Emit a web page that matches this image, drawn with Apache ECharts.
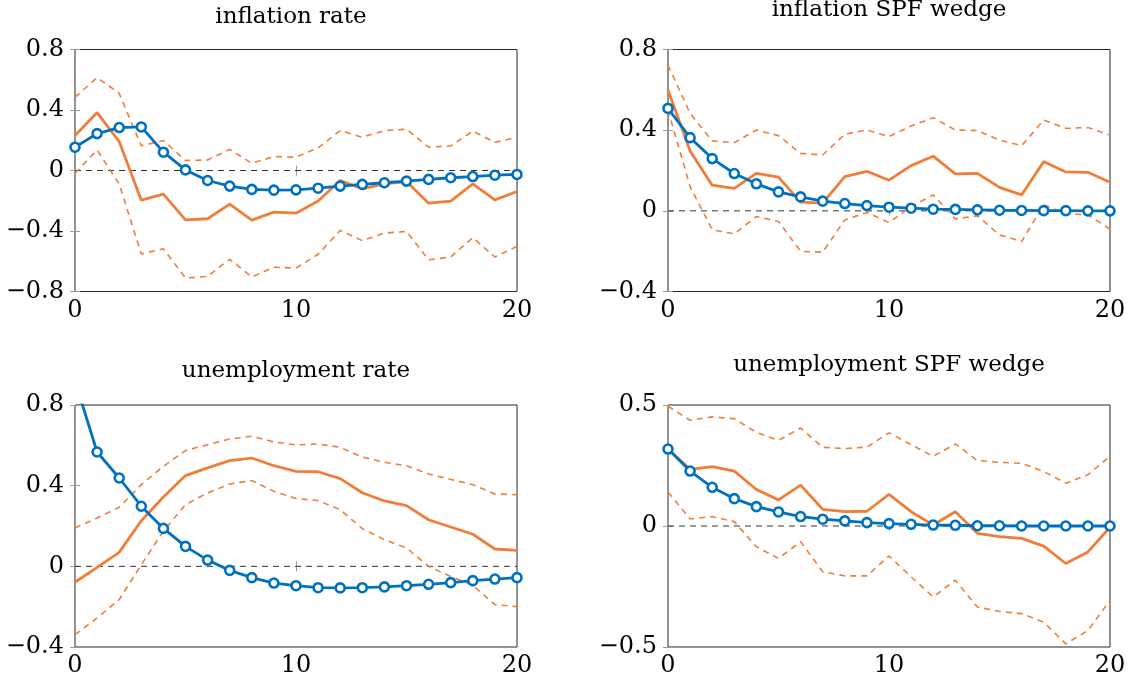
<!DOCTYPE html>
<html>
<head>
<meta charset="utf-8">
<title>Impulse responses</title>
<script src="https://cdn.jsdelivr.net/npm/echarts@6/dist/echarts.min.js"></script>
<style>
  html, body { margin: 0; padding: 0; background: #fff; }
  #chart { width: 1131px; height: 686px; }
</style>
</head>
<body>
<div id="chart"></div>
<script>
// Horizon (quarters)
const periods = [0,1,2,3,4,5,6,7,8,9,10,11,12,13,14,15,16,17,18,19,20];
const xTicks = [0, 10, 20];

// Panel titles
const titles = ['inflation rate', 'inflation SPF wedge', 'unemployment rate', 'unemployment SPF wedge'];

// y-axis tick values per panel
const yTicksInf = [-0.8, -0.4, 0, 0.4, 0.8];
const yTicksSpfInf = [-0.4, 0, 0.4, 0.8];
const yTicksUn = [-0.4, 0, 0.4, 0.8];
const yTicksSpfUn = [-0.5, 0, 0.5];

// inflation rate
const infModel  = [0.154,0.244,0.284,0.288,0.121,0.004,-0.066,-0.103,-0.125,-0.130,-0.128,-0.117,-0.103,-0.092,-0.081,-0.070,-0.059,-0.048,-0.040,-0.031,-0.026];
const infMedian = [0.231,0.383,0.191,-0.196,-0.156,-0.326,-0.319,-0.222,-0.328,-0.275,-0.282,-0.202,-0.066,-0.121,-0.088,-0.073,-0.216,-0.202,-0.088,-0.194,-0.139];
const infUpper  = [0.484,0.614,0.510,0.163,0.198,0.066,0.070,0.139,0.048,0.092,0.088,0.150,0.264,0.220,0.264,0.273,0.154,0.163,0.260,0.187,0.218];
const infLower  = [-0.018,0.136,-0.090,-0.552,-0.517,-0.711,-0.700,-0.587,-0.704,-0.640,-0.645,-0.554,-0.396,-0.464,-0.414,-0.403,-0.590,-0.572,-0.444,-0.572,-0.502];

// inflation SPF wedge
const spfInfModel  = [0.508,0.363,0.259,0.185,0.134,0.094,0.069,0.048,0.036,0.026,0.018,0.013,0.008,0.007,0.005,0.003,0.002,0.001,0.001,0.000,0.000];
const spfInfMedian = [0.599,0.297,0.127,0.111,0.186,0.167,0.043,0.038,0.170,0.196,0.152,0.224,0.271,0.183,0.186,0.116,0.079,0.244,0.193,0.191,0.142];
const spfInfUpper  = [0.723,0.483,0.347,0.338,0.401,0.373,0.285,0.277,0.380,0.401,0.368,0.421,0.462,0.401,0.398,0.351,0.323,0.450,0.409,0.413,0.376];
const spfInfLower  = [0.500,0.120,-0.094,-0.114,-0.028,-0.053,-0.201,-0.205,-0.045,-0.008,-0.058,0.021,0.079,-0.040,-0.025,-0.119,-0.152,0.030,-0.015,-0.020,-0.091];

// unemployment rate
const unModel  = [0.920,0.567,0.438,0.298,0.188,0.099,0.031,-0.020,-0.056,-0.083,-0.096,-0.106,-0.107,-0.106,-0.102,-0.096,-0.089,-0.081,-0.071,-0.063,-0.056];
const unMedian = [-0.079,-0.005,0.069,0.226,0.344,0.450,0.488,0.524,0.537,0.499,0.471,0.469,0.435,0.365,0.324,0.301,0.231,0.195,0.159,0.086,0.079];
const unUpper  = [0.190,0.240,0.293,0.405,0.496,0.574,0.603,0.631,0.645,0.617,0.602,0.607,0.590,0.542,0.516,0.499,0.458,0.431,0.405,0.359,0.355];
const unLower  = [-0.339,-0.256,-0.165,0.008,0.174,0.306,0.364,0.408,0.425,0.372,0.336,0.326,0.281,0.187,0.132,0.091,0.000,-0.050,-0.094,-0.190,-0.200];

// unemployment SPF wedge
const spfUnModel  = [0.318,0.227,0.160,0.113,0.080,0.058,0.039,0.028,0.021,0.014,0.010,0.007,0.004,0.003,0.001,0.001,0.000,0.000,0.000,0.000,0.000];
const spfUnMedian = [0.318,0.234,0.245,0.227,0.151,0.108,0.169,0.069,0.059,0.061,0.131,0.059,0.004,0.059,-0.030,-0.044,-0.051,-0.083,-0.155,-0.107,-0.005];
const spfUnUpper  = [0.495,0.437,0.451,0.443,0.387,0.354,0.405,0.325,0.320,0.326,0.385,0.336,0.288,0.339,0.271,0.263,0.259,0.225,0.177,0.212,0.288];
const spfUnLower  = [0.140,0.029,0.039,0.018,-0.086,-0.134,-0.065,-0.189,-0.206,-0.206,-0.124,-0.210,-0.293,-0.224,-0.335,-0.353,-0.362,-0.397,-0.487,-0.432,-0.307];

const BLUE = '#0072BD';
const ORANGE = '#EF7E3A';
const FONT = 'DejaVu Serif';

const panels = [
  { title: titles[0], ticks: yTicksInf,    model: infModel,    median: infMedian,    upper: infUpper,    lower: infLower },
  { title: titles[1], ticks: yTicksSpfInf, model: spfInfModel, median: spfInfMedian, upper: spfInfUpper, lower: spfInfLower },
  { title: titles[2], ticks: yTicksUn,     model: unModel,     median: unMedian,     upper: unUpper,     lower: unLower },
  { title: titles[3], ticks: yTicksSpfUn,  model: spfUnModel,  median: spfUnMedian,  upper: spfUnUpper,  lower: spfUnLower }
];

// plot-area boxes (px)
const boxes = [
  { left: 75,  top: 49.5, width: 442, height: 242 },
  { left: 668, top: 49.5, width: 442, height: 242 },
  { left: 75,  top: 405,  width: 442, height: 242 },
  { left: 668, top: 405,  width: 442, height: 242 }
];
const titlePos = [
  { x: 291, top: 6 },
  { x: 889, top: -1 },
  { x: 296, top: 360 },
  { x: 889, top: 354 }
];

function fmtTick(v) {
  if (Math.abs(v) < 1e-9) return '0';
  const s = Math.abs(v).toFixed(1);
  return (v < 0 ? '\u2212' : '') + s;
}

const toPairs = arr => arr.map((v, i) => [periods[i], v]);

const grid = [], xAxis = [], yAxis = [], series = [], title = [];

panels.forEach((p, k) => {
  const b = boxes[k];
  grid.push({ left: b.left, top: b.top, width: b.width, height: b.height,
              show: true, borderColor: '#262626', borderWidth: 1, backgroundColor: 'transparent' });

  title.push({ text: p.title, left: titlePos[k].x, top: titlePos[k].top, textAlign: 'center', padding: 0,
               textStyle: { fontFamily: FONT, fontSize: 23, fontWeight: 'normal', color: '#000' } });

  const yMin = p.ticks[0], yMax = p.ticks[p.ticks.length - 1];
  const yInt = p.ticks[1] - p.ticks[0];
  const xInt = xTicks[1] - xTicks[0];

  const tick = { show: true, inside: true, length: 5, lineStyle: { color: '#9a9a9a', width: 1 } };

  // bottom axis with labels
  xAxis.push({ type: 'value', gridIndex: k, min: xTicks[0], max: xTicks[xTicks.length - 1], interval: xInt,
               position: 'bottom', axisLine: { show: false }, splitLine: { show: false }, axisTick: tick,
               axisLabel: { show: true, margin: 7, fontFamily: FONT, fontSize: 24, color: '#000',
                            showMinLabel: true, showMaxLabel: true } });
  // mirrored top axis (ticks only)
  xAxis.push({ type: 'value', gridIndex: k, min: xTicks[0], max: xTicks[xTicks.length - 1], interval: xInt,
               position: 'top', axisLine: { show: false }, splitLine: { show: false }, axisTick: tick,
               axisLabel: { show: false } });
  // left axis with labels
  yAxis.push({ type: 'value', gridIndex: k, min: yMin, max: yMax, interval: yInt, position: 'left',
               axisLine: { show: false }, splitLine: { show: false }, axisTick: tick,
               axisLabel: { show: true, margin: 11, fontFamily: FONT, fontSize: 24, color: '#000',
                            formatter: fmtTick, showMinLabel: true, showMaxLabel: true } });
  // mirrored right axis (ticks only)
  yAxis.push({ type: 'value', gridIndex: k, min: yMin, max: yMax, interval: yInt, position: 'right',
               axisLine: { show: false }, splitLine: { show: false }, axisTick: tick,
               axisLabel: { show: false } });

  const xi = 2 * k, yi = 2 * k;

  // zero reference line
  series.push({ type: 'line', xAxisIndex: xi, yAxisIndex: yi, data: [[xTicks[0], 0], [xTicks[xTicks.length - 1], 0]],
                showSymbol: false, symbol: 'none', silent: true, z: 1,
                lineStyle: { color: '#333', width: 1, type: [6, 5] } });
  // confidence bands
  [p.upper, p.lower].forEach(band => {
    series.push({ type: 'line', xAxisIndex: xi, yAxisIndex: yi, data: toPairs(band), symbol: 'none',
                  silent: true, z: 2, lineStyle: { color: ORANGE, width: 1.6, type: [6, 5] } });
  });
  // median response
  series.push({ type: 'line', xAxisIndex: xi, yAxisIndex: yi, data: toPairs(p.median), symbol: 'none',
                silent: true, z: 3, lineStyle: { color: ORANGE, width: 2.8 } });
  // model response
  series.push({ type: 'line', xAxisIndex: xi, yAxisIndex: yi, data: toPairs(p.model), symbol: 'circle',
                symbolSize: 9, showAllSymbol: true, silent: true, z: 4, clip: true,
                lineStyle: { color: BLUE, width: 2.8 },
                itemStyle: { color: '#fff', borderColor: BLUE, borderWidth: 2.6 } });
});

const chart = echarts.init(document.getElementById('chart'), null, { renderer: 'canvas' });
chart.setOption({
  animation: false,
  backgroundColor: '#fff',
  title, grid, xAxis, yAxis, series
});
</script>
</body>
</html>
